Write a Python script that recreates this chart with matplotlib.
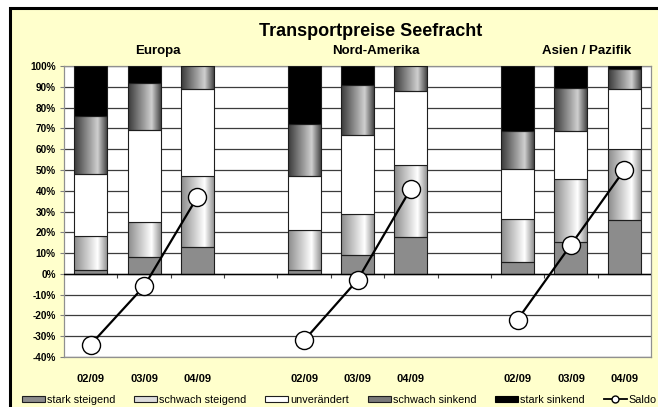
import numpy as np
import matplotlib
matplotlib.use('Agg')
import matplotlib.pyplot as plt
from matplotlib.patches import Rectangle, Patch
from matplotlib.lines import Line2D
from matplotlib.colors import LinearSegmentedColormap

# Kategorien (leere Einträge = Lücke zwischen den Regionen)
kategorien = ['02/09', '03/09', '04/09', '',
              '02/09', '03/09', '04/09', '',
              '02/09', '03/09', '04/09']
regionen = ['Europa', 'Nord-Amerika', 'Asien / Pazifik']

stark_steigend = [2, 8, 13, 2, 9, 17.5, 5.5, 15.5, 26]
schwach_steigend = [16, 17, 34, 19, 20, 35, 21, 30, 34]
unveraendert = [30, 44, 42, 26, 38, 35.5, 24, 23, 29]
schwach_sinkend = [28, 23, 11, 25, 24, 12, 18, 21, 9.5]
stark_sinkend = [24, 8, 0, 28, 9, 0, 31.5, 10.5, 1.5]
saldo = [-34, -6, 37, -32, -3, 41, -22, 14, 50]

plt.rcParams['font.family'] = ['Liberation Sans', 'DejaVu Sans']

fig = plt.figure(figsize=(6.58, 4.07), dpi=100, facecolor='white')
fig.patches.append(Rectangle((10 / 658, -0.2), 1.2, 1.2 - 8 / 407,
                             transform=fig.transFigure, facecolor='#FFFFCC',
                             edgecolor='black', lw=2.2, zorder=-10))

ax = fig.add_axes([64 / 658, 1 - 357 / 407, 587 / 658, 291 / 407])
ax.set_facecolor('white')

pos = np.array([i for i, k in enumerate(kategorien) if k != ''])
breite = 0.62


def verlauf(name, rand, hell):
    return LinearSegmentedColormap.from_list(name, [(0, rand), (0.7, hell), (1, rand)])


cm_st = verlauf('st', '#8c8c8c', '#ffffff')
cm_si = verlauf('si', '#3a3a3a', '#cfcfcf')
grad = np.linspace(0, 1, 64).reshape(1, -1)

unten = np.zeros(len(pos))
serien = [(stark_steigend, '#8c8c8c', None),
          (schwach_steigend, 'none', cm_st),
          (unveraendert, 'white', None),
          (schwach_sinkend, 'none', cm_si),
          (stark_sinkend, 'black', None)]
for werte, farbe, cmap in serien:
    werte = np.array(werte, dtype=float)
    bars = ax.bar(pos, werte, breite, bottom=unten, color=farbe,
                  edgecolor='#1e1e1e', lw=0.8, zorder=3)
    if cmap is not None:
        for b in bars:
            if b.get_height() <= 0:
                continue
            im = ax.imshow(grad, cmap=cmap, aspect='auto', zorder=2.9,
                           extent=(b.get_x(), b.get_x() + b.get_width(),
                                   b.get_y(), b.get_y() + b.get_height()))
            im.set_clip_path(b)
    unten += werte

# Saldo-Linie, je Region getrennt
for g in range(3):
    ax.plot(pos[g * 3:g * 3 + 3], saldo[g * 3:g * 3 + 3], color='black', lw=1.6,
            marker='o', markersize=13, markerfacecolor='white',
            markeredgecolor='black', markeredgewidth=1, zorder=5)

ax.set_xlim(-0.5, len(kategorien) - 0.5)
ax.set_ylim(-40, 100)
ax.set_yticks(np.arange(-40, 101, 10))
ax.set_yticklabels(['%d%%' % v for v in range(-40, 101, 10)],
                   fontsize=7.2, fontweight='bold')
ax.yaxis.grid(True, color='#3c3c3c', lw=0.9, zorder=0)
ax.set_axisbelow(True)
ax.tick_params(axis='y', length=3, color='#808080', pad=3)

ax.set_xticks(pos)
ax.set_xticklabels([kategorien[p] for p in pos], fontsize=8, fontweight='bold')
ax.tick_params(axis='x', length=0, pad=12)

for s in ax.spines.values():
    s.set_color('#909090')
    s.set_linewidth(0.9)

# Nulllinie mit Teilstrichen zwischen den Kategorien
ax.axhline(0, color='black', lw=1.0, zorder=4)
sec = ax.secondary_xaxis(40 / 140)
sec.set_xticks(np.arange(0.5, len(kategorien) - 1, 1))
sec.set_xticklabels([])
sec.tick_params(length=3, direction='out', color='#404040')
sec.spines['bottom'].set_visible(False)

fig.text(371 / 658, 1 - 31 / 407, 'Transportpreise Seefracht', fontsize=13,
         fontweight='bold', ha='center', va='center')
for r, x in zip(regionen, [158, 376, 587]):
    fig.text(x / 658, 1 - 51 / 407, r, fontsize=9.5, fontweight='bold',
             ha='center', va='center')

handles = [Patch(facecolor='#8c8c8c', edgecolor='#1e1e1e', lw=0.8),
           Patch(facecolor='#dcdcdc', edgecolor='#1e1e1e', lw=0.8),
           Patch(facecolor='white', edgecolor='#1e1e1e', lw=0.8),
           Patch(facecolor='#7a7a7a', edgecolor='#1e1e1e', lw=0.8),
           Patch(facecolor='black', edgecolor='black', lw=0.8),
           Line2D([], [], color='black', lw=1.3, marker='o', markersize=5,
                  markerfacecolor='white', markeredgecolor='black')]
labels = ['stark steigend', 'schwach steigend', 'unverändert',
          'schwach sinkend', 'stark sinkend', 'Saldo']
fig.legend(handles, labels, loc='center left', bbox_to_anchor=(22 / 658, 7 / 407),
           ncol=6, frameon=False, fontsize=7.8, handlelength=2.1,
           handleheight=0.55, handletextpad=0.2, columnspacing=1.75,
           borderpad=0, borderaxespad=0)

fig.savefig('out.png', dpi=100, facecolor=fig.get_facecolor())
